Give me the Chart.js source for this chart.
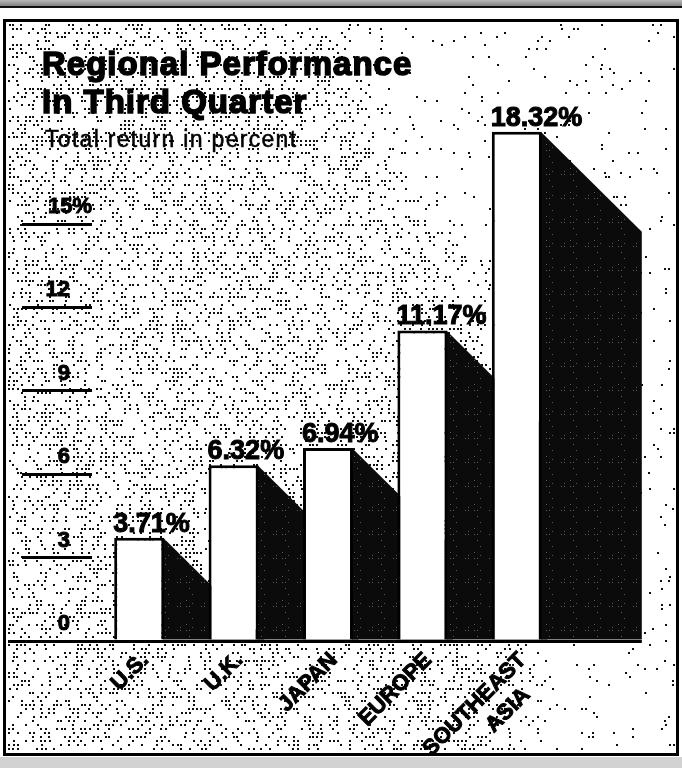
<!DOCTYPE html>
<html>
<head>
<meta charset="utf-8">
<title>Regional Performance In Third Quarter</title>
<script src="https://cdn.jsdelivr.net/npm/chart.js@4.4.1/dist/chart.umd.min.js"></script>
<style>
  body { margin: 0; background: #fff; }
  #wrap { position: relative; width: 682px; height: 768px; overflow: hidden; }
  #chart { position: absolute; left: 0; top: 0; }
  .head {
    position: absolute; left: 42px; top: 45px;
    font-family: "Liberation Sans", Arial, sans-serif; font-weight: bold;
    font-size: 33px; line-height: 38px; letter-spacing: 1px;
    -webkit-text-stroke: 1.6px #000; color: #000; white-space: nowrap;
  }
  .sub {
    position: absolute; left: 45px; top: 126px;
    font-family: "Liberation Sans", Arial, sans-serif;
    font-size: 23px; line-height: 26px; letter-spacing: 1.3px;
    -webkit-text-stroke: 0.5px #000; color: #000; white-space: nowrap;
  }
</style>
</head>
<body>
<div id="wrap">
  <canvas id="chart" width="682" height="768"></canvas>
  <div class="head">Regional Performance<br>In Third Quarter</div>
  <div class="sub">Total return in percent</div>
</div>
<script>
// data
const regions = ['U.S.', 'U.K.', 'JAPAN', 'EUROPE', ['SOUTHEAST', 'ASIA\u2002\u2002']];
const returns = [3.71, 6.32, 6.94, 11.17, 18.32];
const yTicks = [0, 3, 6, 9, 12, 15];

const DEPTH = 100; // how far the shadow falls right/down

// cheap repeatable hash for the newsprint speckle
function hash(a, b) {
  let h = Math.imul(a, 374761393) + Math.imul(b, 668265263) | 0;
  h = Math.imul(h ^ (h >>> 13), 1274126177);
  h = h ^ (h >>> 16);
  return (h >>> 0) / 4294967296;
}

function speckleDensity(x, y) {
  const edge = y < 330 ? 330 + (y - 30) * 0.5 : 480 + (y - 330) * 0.1;
  if (x < edge - 40) return 0.36;
  if (x > edge + 40) return 0.05;
  return 0.36 - (x - edge + 40) / 80 * 0.31;
}

// dark fill with light specks for the shadows
const tile = document.createElement('canvas');
tile.width = tile.height = 24;
(() => {
  const t = tile.getContext('2d');
  t.fillStyle = '#0b0b0b';
  t.fillRect(0, 0, 24, 24);
  t.fillStyle = '#5c5c5c';
  for (let i = 0; i < 24; i += 3) {
    for (let j = 0; j < 24; j += 3) {
      if (hash(i + 900, j + 77) < 0.12) t.fillRect(i, j, 1, 1);
    }
  }
})();

const paper = {
  id: 'paper',
  beforeDraw(chart) {
    const ctx = chart.ctx;
    ctx.save();
    ctx.fillStyle = '#fff';
    ctx.fillRect(0, 0, 682, 768);
    // speckle
    ctx.fillStyle = '#111';
    for (let y = 24; y < 752; y += 4) {
      for (let x = 8; x < 674; x += 4) {
        if (hash(x, y) < speckleDensity(x, y)) {
          ctx.fillRect(x + (hash(y, x) < 0.5 ? 0 : 1), y, 2, 2);
        }
      }
    }
    // scanned edges
    const g = ctx.createLinearGradient(0, 0, 0, 7);
    g.addColorStop(0, '#b8b8b8');
    g.addColorStop(1, '#7a7a7a');
    ctx.fillStyle = g;
    ctx.fillRect(0, 0, 682, 7);
    ctx.fillStyle = '#111';
    ctx.fillRect(0, 6, 682, 2);
    ctx.fillStyle = '#d2d2d2';
    ctx.fillRect(0, 757, 682, 11);
    ctx.restore();
  },
  afterDraw(chart) {
    const ctx = chart.ctx;
    ctx.save();
    ctx.strokeStyle = '#000';
    ctx.lineWidth = 3;
    ctx.strokeRect(4.5, 20.5, 673, 734);
    ctx.restore();
  }
};

const shadows = {
  id: 'shadows',
  beforeDatasetsDraw(chart) {
    const ctx = chart.ctx;
    const pat = ctx.createPattern(tile, 'repeat');
    ctx.save();
    ctx.fillStyle = pat;
    chart.getDatasetMeta(0).data.forEach(bar => {
      const r = bar.x + bar.width / 2;
      const d = Math.min(DEPTH, bar.base - bar.y);
      ctx.beginPath();
      ctx.moveTo(r - 1, bar.y);
      ctx.lineTo(r + d, bar.y + d);
      ctx.lineTo(r + DEPTH, bar.y + d);
      ctx.lineTo(r + DEPTH, bar.base);
      ctx.lineTo(r - 1, bar.base);
      ctx.closePath();
      ctx.fill();
    });
    ctx.restore();
  },
  afterDatasetsDraw(chart) {
    const ctx = chart.ctx;
    const bars = chart.getDatasetMeta(0).data;
    const y0 = chart.scales.y.getPixelForValue(0);
    const last = bars[bars.length - 1];
    ctx.save();
    ctx.fillStyle = '#000';
    ctx.fillRect(8, y0 - 1, last.x + last.width / 2 + DEPTH - 8, 3);
    ctx.font = 'bold 27px "Liberation Sans", Arial, sans-serif';
    ctx.textAlign = 'left';
    ctx.textBaseline = 'alphabetic';
    ctx.strokeStyle = '#000';
    ctx.lineWidth = 1;
    bars.forEach((bar, i) => {
      const txt = returns[i].toFixed(2) + '%';
      const lx = bar.x - bar.width / 2 - 1;
      ctx.fillText(txt, lx, bar.y - 6);
      ctx.strokeText(txt, lx, bar.y - 6);
    });
    ctx.restore();
  }
};

new Chart(document.getElementById('chart'), {
  type: 'bar',
  data: {
    labels: regions,
    datasets: [{
      data: returns,
      backgroundColor: '#fff',
      borderColor: '#000',
      borderWidth: 3,
      borderSkipped: 'bottom',
      categoryPercentage: 1,
      barPercentage: 0.53
    }]
  },
  options: {
    responsive: false,
    animation: false,
    devicePixelRatio: 1,
    layout: { padding: { left: 0, top: 85, right: 118, bottom: 0 } },
    plugins: { legend: { display: false }, tooltip: { enabled: false } },
    scales: {
      x: {
        afterFit: s => { s.height = 127; },
        grid: { display: false, drawTicks: false },
        border: { display: false },
        ticks: {
          minRotation: 45, maxRotation: 45, autoSkip: false,
          padding: 6, labelOffset: 6, color: '#000',
          textStrokeColor: '#000', textStrokeWidth: 1,
          font: { family: '"Liberation Sans", Arial, sans-serif', size: 22, weight: 'bold', lineHeight: 1.25 }
        }
      },
      y: {
        min: 0, max: 20,
        afterBuildTicks: s => { s.ticks = yTicks.map(v => ({ value: v })); },
        afterFit: s => { s.width = 92; },
        grid: { drawOnChartArea: false, drawTicks: true, tickLength: 70, color: '#000', lineWidth: 3 },
        border: { display: false },
        ticks: {
          padding: -70, labelOffset: -17, color: '#000',
          textStrokeColor: '#000', textStrokeWidth: 1,
          font: { family: '"Liberation Sans", Arial, sans-serif', size: 22, weight: 'bold' },
          callback: v => v === 15 ? '15%' : v + '\u2002\u2002'
        }
      }
    }
  },
  plugins: [paper, shadows]
});
</script>
</body>
</html>
